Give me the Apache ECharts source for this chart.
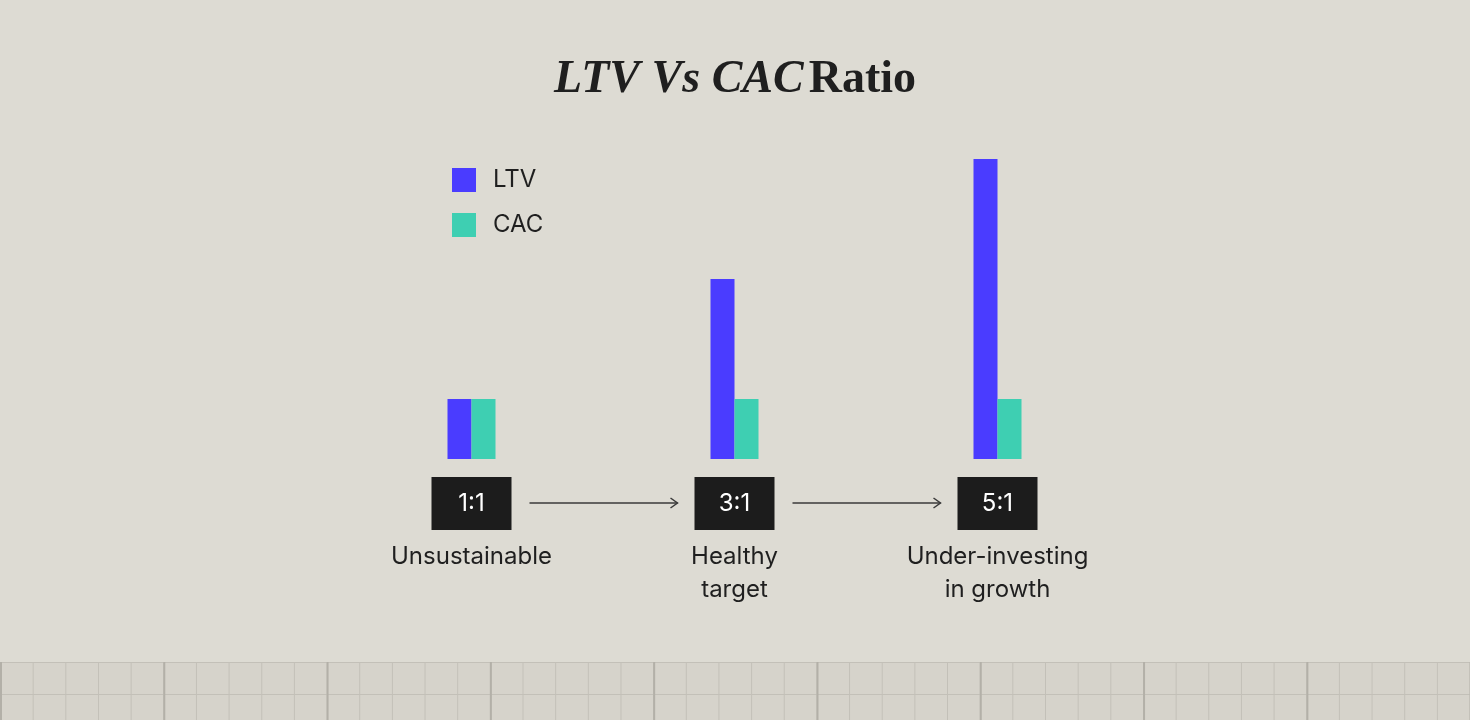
<!DOCTYPE html>
<html>
<head>
<meta charset="utf-8">
<script src="https://cdn.jsdelivr.net/npm/echarts@6/dist/echarts.min.js"></script>
<style>
  html, body { margin: 0; padding: 0; background: #dddbd3; overflow: hidden; }
  #root { width: 1470px; height: 662px; }
  #floor {
    position: absolute; left: 0; top: 662px; width: 1470px; height: 58px;
    background-color: #d6d3cb;
    background-image:
      linear-gradient(to right, #b3b0a8 2px, transparent 2px),
      linear-gradient(to right, #c3c0b8 1px, transparent 1px),
      linear-gradient(to bottom, #c3c0b8 1px, transparent 1px);
    background-size: 163.3px 100%, 32.66px 100%, 100% 32px;
  }
</style>
</head>
<body>
<div id="root"></div>
<div id="floor"></div>
<script>
  const ratios = ['1:1', '3:1', '5:1'];
  const descriptions = [['Unsustainable'], ['Healthy', 'target'], ['Under-investing', 'in growth']];
  const ltv = [1, 3, 5];
  const cac = [1, 1, 1];

  const chart = echarts.init(document.getElementById('root'));
  const textColor = '#1f1f1f';

  const option = {
    animation: false,
    title: {
      text: '{i|LTV Vs CAC} {n|Ratio}',
      left: 'center',
      top: 52,
      textStyle: {
        rich: {
          i: { fontFamily: 'Liberation Serif', fontStyle: 'italic', fontSize: 46, color: textColor },
          n: { fontFamily: 'Liberation Serif', fontSize: 46, color: textColor }
        }
      }
    },
    legend: {
      orient: 'vertical',
      left: 447,
      top: 163,
      itemWidth: 24,
      itemHeight: 24,
      itemGap: 21,
      icon: 'rect',
      textStyle: { fontFamily: 'Inter', fontSize: 24, color: textColor, padding: [0, 0, 0, 12] },
      data: ['LTV', 'CAC']
    },
    grid: { left: 340, width: 789, top: 159, bottom: 662 - 459 },
    xAxis: {
      type: 'category',
      data: ratios,
      axisLine: { show: false },
      axisTick: { show: false },
      axisLabel: {
        margin: 18,
        formatter: (v, i) => {
          const d = descriptions[i].map(s => '{desc|' + s + '}').join('\n');
          return '{box|' + v + '}\n{gap|}\n' + d;
        },
        rich: {
          box: {
            backgroundColor: '#1c1c1c', color: '#ffffff', fontFamily: 'Inter', fontSize: 24,
            width: 80, height: 53, lineHeight: 53, align: 'center'
          },
          gap: { height: 10, lineHeight: 10 },
          desc: { fontFamily: 'Inter', fontSize: 24, color: textColor, lineHeight: 33, align: 'center' }
        }
      }
    },
    yAxis: { type: 'value', min: 0, max: 5, show: false, splitLine: { show: false } },
    series: [
      { name: 'LTV', type: 'bar', data: ltv, barWidth: 24, barGap: '0%', itemStyle: { color: '#4a3cff' } },
      { name: 'CAC', type: 'bar', data: cac, barWidth: 24, itemStyle: { color: '#3ecfb2' } }
    ]
  };
  chart.setOption(option);

  // arrows between the ratio boxes
  const y = 503;
  const centers = ratios.map(r => chart.convertToPixel({ xAxisIndex: 0 }, r));
  const graphics = [];
  for (let i = 0; i < centers.length - 1; i++) {
    const x1 = centers[i] + 40 + 18;
    const x2 = centers[i + 1] - 40 - 17;
    graphics.push({
      type: 'polyline', shape: { points: [[x1, y], [x2, y]] },
      style: { stroke: '#3a3a3a', lineWidth: 1.5 }
    });
    graphics.push({
      type: 'polyline', shape: { points: [[x2 - 7, y - 5], [x2, y], [x2 - 7, y + 5]] },
      style: { stroke: '#3a3a3a', lineWidth: 1.5, fill: null }
    });
  }
  chart.setOption({ graphic: graphics });
</script>
</body>
</html>
